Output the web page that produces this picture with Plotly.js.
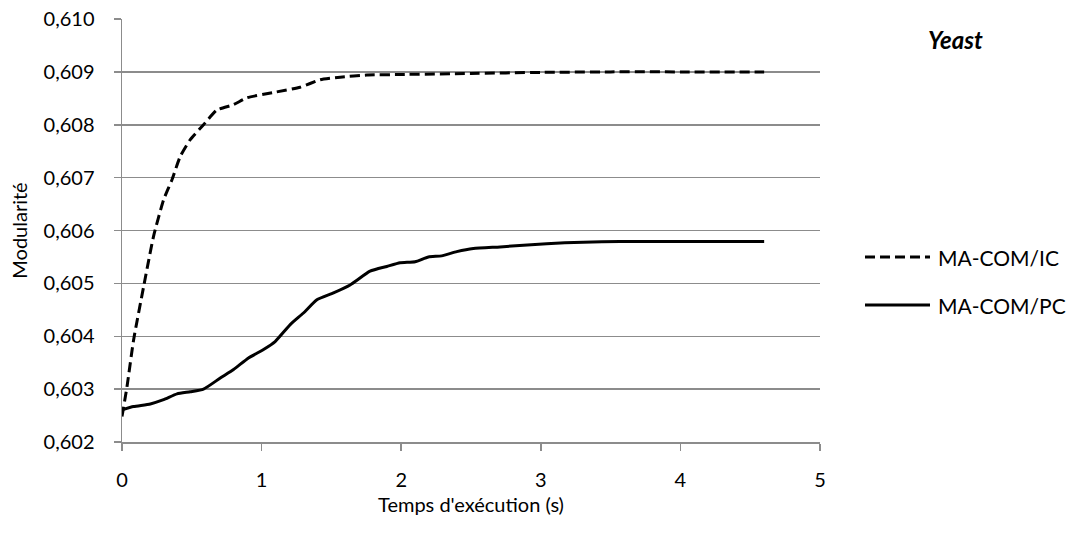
<!DOCTYPE html>
<html>
<head>
<meta charset="utf-8">
<script src="https://cdn.plot.ly/plotly-3.0.1.min.js"></script>
<style>html,body{margin:0;padding:0;background:#fff;}#chart{width:1071px;height:539px;}</style>
</head>
<body>
<div id="chart"></div>
<script>
// ---- data ----
const seriesNames = ["MA-COM/IC", "MA-COM/PC"];
const icTime = [0, 0.036, 0.083, 0.155, 0.226, 0.298, 0.358, 0.417, 0.489, 0.584, 0.68, 0.799, 0.895, 1.085, 1.276, 1.42, 1.563, 1.754, 1.99, 2.5, 3.0, 3.5, 4.0, 4.6];
const icModularity = [0.60248, 0.60305, 0.60393, 0.60494, 0.60589, 0.60658, 0.60696, 0.60740, 0.60772, 0.60800, 0.60828, 0.60838, 0.60851, 0.60861, 0.60871, 0.60885, 0.60890, 0.60894, 0.60895, 0.60897, 0.60899, 0.60900, 0.60900, 0.60900];
const pcTime = [0, 0.083, 0.203, 0.298, 0.394, 0.489, 0.584, 0.704, 0.799, 0.906, 1.014, 1.097, 1.205, 1.30, 1.396, 1.515, 1.634, 1.777, 1.897, 1.992, 2.10, 2.195, 2.29, 2.398, 2.517, 2.708, 3.042, 3.304, 3.567, 4.0, 4.6];
const pcModularity = [0.60261, 0.60267, 0.60272, 0.60280, 0.60291, 0.60295, 0.60300, 0.60321, 0.60337, 0.60359, 0.60375, 0.60390, 0.60422, 0.60444, 0.60469, 0.60482, 0.60497, 0.60523, 0.60532, 0.60539, 0.60541, 0.60550, 0.60552, 0.60560, 0.60566, 0.60569, 0.60575, 0.60578, 0.60579, 0.60579, 0.60579];
const xTickVals = [0, 1, 2, 3, 4, 5];
const yTickVals = [0.602, 0.603, 0.604, 0.605, 0.606, 0.607, 0.608, 0.609, 0.610];
const yTickText = ["0,602", "0,603", "0,604", "0,605", "0,606", "0,607", "0,608", "0,609", "0,610"];
const chartTitle = "Yeast";
const xTitle = "Temps d'exécution (s)";
const yTitle = "Modularité";

const FONT = "Lato, 'Open Sans', sans-serif";
const W = 1071, H = 539;
const L = 122, R = 251, T = 19, B = 97;
const gridColor = "#8c8c8c";

const traces = [
  {x: icTime, y: icModularity, name: seriesNames[0], mode: "lines",
   line: {color: "#000", width: 3, dash: "10px,5px", shape: "spline", smoothing: 0.5}},
  {x: pcTime, y: pcModularity, name: seriesNames[1], mode: "lines",
   line: {color: "#000", width: 3, shape: "spline", smoothing: 0.5}}
];

// legend drawn manually to match long sample lines
const plotW = W - L - R;
function px2paperX(px) { return (px - L) / plotW; }
function px2paperY(py) { return 1 - (py - T) / (H - T - B); }
const legendRows = [257, 305];
const shapes = [];
const annotations = [
  {text: "<b><i>" + chartTitle + "</i></b>", xref: "paper", yref: "paper",
   x: px2paperX(955), y: px2paperY(40), xanchor: "center", yanchor: "middle",
   showarrow: false, font: {family: FONT, size: 24, color: "#000"}}
];
seriesNames.forEach((n, i) => {
  shapes.push({type: "line", xref: "paper", yref: "paper",
    x0: px2paperX(865), x1: px2paperX(930), y0: px2paperY(legendRows[i]), y1: px2paperY(legendRows[i]),
    line: {color: "#000", width: 3, dash: i === 0 ? "10px,5px" : "solid"}});
  annotations.push({text: n, xref: "paper", yref: "paper",
    x: px2paperX(936), y: px2paperY(legendRows[i]), xanchor: "left", yanchor: "middle",
    showarrow: false, font: {family: FONT, size: 21, color: "#000"}});
});

const layout = {
  width: W, height: H,
  margin: {l: L, r: R, t: T, b: B, pad: 0},
  paper_bgcolor: "#fff", plot_bgcolor: "#fff",
  showlegend: false,
  font: {family: FONT, size: 20, color: "#000"},
  xaxis: {
    range: [0, 5], tickvals: xTickVals, ticktext: xTickVals.map(String),
    showgrid: false, zeroline: false, showline: true, linecolor: gridColor, linewidth: 1.5,
    ticks: "outside", ticklen: 7, tickcolor: gridColor, tickwidth: 1.5,
    ticklabelstandoff: 12,
    tickfont: {family: FONT, size: 20, color: "#000"},
    title: {text: xTitle, font: {family: FONT, size: 20, color: "#000"}, standoff: 8}
  },
  yaxis: {
    range: [0.602, 0.610], tickvals: yTickVals, ticktext: yTickText,
    showgrid: true, gridcolor: gridColor, gridwidth: 1.5,
    zeroline: false, showline: true, linecolor: gridColor, linewidth: 1.5,
    ticks: "outside", ticklen: 7, tickcolor: gridColor, tickwidth: 1.5,
    ticklabelstandoff: 15,
    tickfont: {family: FONT, size: 20, color: "#000"},
    title: {text: yTitle, font: {family: FONT, size: 20, color: "#000"}, standoff: 10}
  },
  shapes: shapes,
  annotations: annotations
};

Plotly.newPlot("chart", traces, layout, {displayModeBar: false, staticPlot: true});
</script>
</body>
</html>
